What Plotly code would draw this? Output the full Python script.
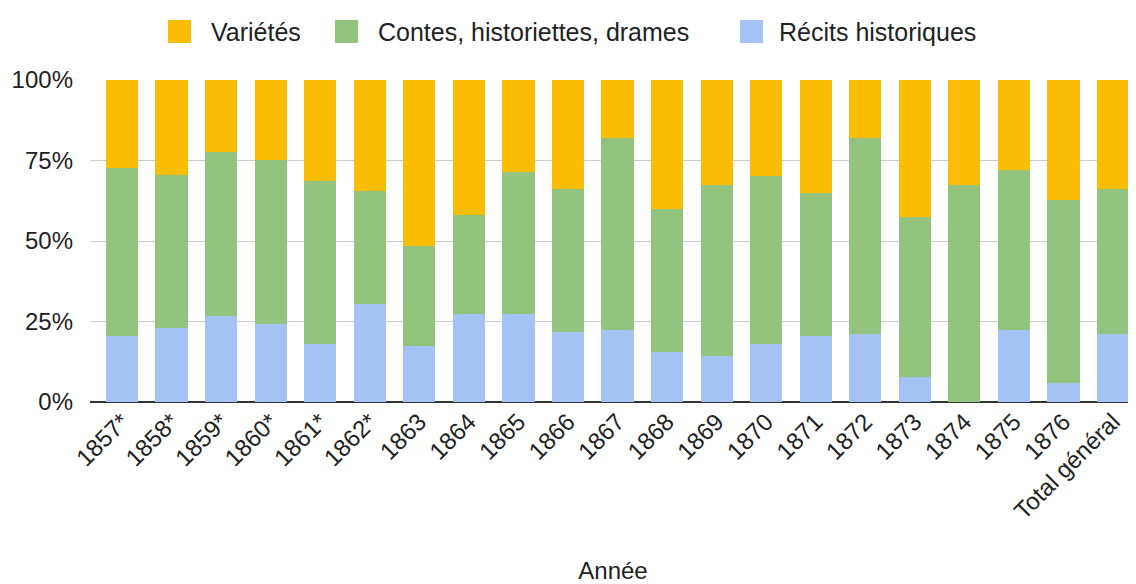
import plotly.graph_objects as go

annees = ["1857*", "1858*", "1859*", "1860*", "1861*", "1862*", "1863", "1864", "1865",
          "1866", "1867", "1868", "1869", "1870", "1871", "1872", "1873", "1874", "1875",
          "1876", "Total général"]

recits = [20.5, 23.1, 26.7, 24.1, 18.0, 30.4, 17.3, 27.3, 27.3, 21.7, 22.3, 15.4, 14.2,
          18.0, 20.5, 21.0, 7.8, 0.0, 22.3, 6.0, 21.0]
contes = [52.1, 47.5, 50.9, 51.0, 50.7, 35.2, 31.3, 30.9, 44.0, 44.6, 59.7, 44.6, 53.3,
          52.1, 44.5, 61.0, 49.7, 67.5, 49.7, 56.6, 45.3]
varietes = [27.4, 29.4, 22.4, 24.9, 31.3, 34.4, 51.4, 41.8, 28.7, 33.7, 18.0, 40.0, 32.5,
            29.9, 35.0, 18.0, 42.5, 32.5, 28.0, 37.4, 33.7]

y_ticks = [0, 25, 50, 75, 100]
y_tick_labels = ["0%", "25%", "50%", "75%", "100%"]

series_names = ["Variétés", "Contes, historiettes, drames", "Récits historiques"]
series_colors = ["#FBBC04", "#93C47D", "#A4C2F4"]

FONT = "Liberation Sans, Arial, sans-serif"
FS = 24

# figure geometry (page has an 8px body margin)
W, H = 1128, 576
ML, MR, MT, MB = 82, 0, 72, 182
PW, PH = W - ML - MR, H - MT - MB


def px_x(x):
    return (x - ML) / PW


def px_y(y):
    return (H - MB - y) / PH


fig = go.Figure()
fig.add_trace(go.Bar(name=series_names[2], x=annees, y=recits, marker_color=series_colors[2]))
fig.add_trace(go.Bar(name=series_names[1], x=annees, y=contes, marker_color=series_colors[1]))
fig.add_trace(go.Bar(name=series_names[0], x=annees, y=varietes, marker_color=series_colors[0]))
fig.update_traces(marker_line_width=0)

# custom legend (larger swatches like the reference)
legend_sq_x = [160, 327, 732]
legend_txt_x = [201, 368, 769]
for sx, tx, name, col in zip(legend_sq_x, legend_txt_x, series_names, series_colors):
    fig.add_shape(type="rect", xref="paper", yref="paper",
                  x0=px_x(sx), x1=px_x(sx + 23), y0=px_y(35), y1=px_y(12),
                  fillcolor=col, line=dict(width=0), layer="above")
    fig.add_annotation(xref="paper", yref="paper", x=px_x(tx), y=px_y(24),
                       xanchor="left", yanchor="middle", text=name, showarrow=False,
                       font=dict(family=FONT, size=25, color="#222222"))

fig.update_layout(
    width=W, height=H,
    barmode="stack", barnorm="percent", bargap=0.35,
    plot_bgcolor="white", paper_bgcolor="white",
    margin=dict(l=ML, r=MR, t=MT, b=MB, autoexpand=False),
    font=dict(family=FONT, size=FS, color="#222222"),
    showlegend=False,
    xaxis=dict(type="category", range=[-0.646, 20.464], tickangle=-45,
               tickfont=dict(size=FS, color="#222222"), showgrid=False,
               title=dict(text="Année", font=dict(size=FS, color="#222222"), standoff=38),
               showline=False, ticks="", automargin=False),
    yaxis=dict(range=[0, 100], tickvals=y_ticks, ticktext=y_tick_labels,
               tickfont=dict(size=FS, color="#222222"), showgrid=True, gridcolor="#cccccc",
               gridwidth=1, zeroline=True, zerolinecolor="#333333", zerolinewidth=2,
               ticks="", ticklabelstandoff=16, automargin=False),
)

fig.write_html("out.html")
